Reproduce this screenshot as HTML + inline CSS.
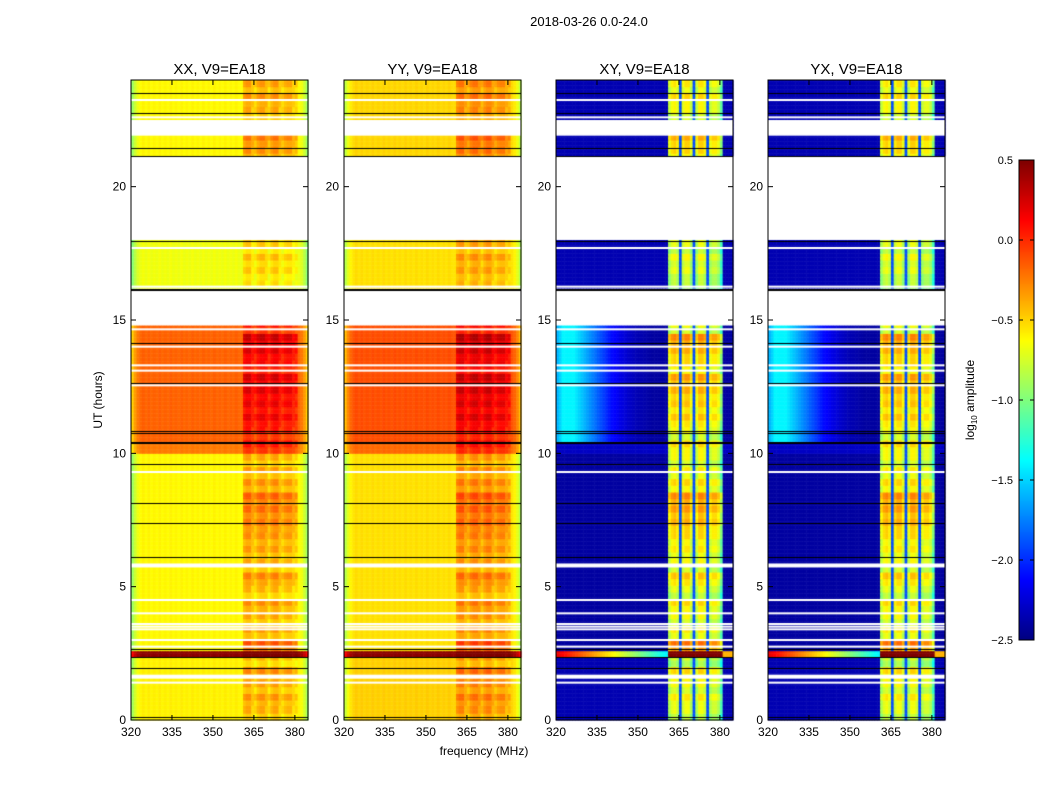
<!DOCTYPE html>
<html><head><meta charset="utf-8"><style>
body{margin:0;background:#fff;width:1050px;height:800px;overflow:hidden;font-family:"Liberation Sans",sans-serif}
canvas,svg{position:absolute;left:0;top:0}
</style></head><body>
<canvas id="cv" width="1050" height="800"></canvas>
<svg id="ov" width="1050" height="800"></svg>
<script>
// ---- data ----
const panelTitles=["XX, V9=EA18","YY, V9=EA18","XY, V9=EA18","YX, V9=EA18"];
const xTicks=[320,335,350,365,380];
const yTicks=[0,5,10,15,20];
const cbTicks=[0.5,0.0,-0.5,-1.0,-1.5,-2.0,-2.5];
// segments: [start,end, xx, yy, xy, yx, glowLeft(1/0)]
const segments=[[0,2.35,-0.6,-0.5,-2.35,-2.35,0],[2.35,2.6,0.45,0.45,-0.4,-0.4,0],[2.6,10.0,-0.62,-0.55,-2.4,-2.4,0],
 [10.0,10.4,-0.25,-0.2,-2.3,-2.3,0],[10.4,14.8,-0.18,-0.12,-1.4,-1.4,1],[16.2,18.0,-0.68,-0.55,-2.35,-2.35,0],[21.15,24,-0.62,-0.52,-2.35,-2.35,0]];
const whiteLines=[23.25,22.6,17.7,16.25,14.65,14.0,13.3,13.1,12.55,9.3,4.5,4.0,3.6,3.5,3.4,3.0,2.75,1.4,22.0,21.95];
const whiteBands=[[5.72,5.87],[1.55,1.7],[22.0,22.5],[18.0,21.15],[14.8,16.1]];
const blackLines=[23.5,22.75,21.45,21.15,17.95,16.15,16.12,14.15,12.65,10.85,10.75,10.42,10.38,9.6,8.15,7.4,6.1,2.65,2.35,1.95,0.1];
// column offsets (parallel pols), 320..384 MHz
const parProfile=[-0.3,-0.15,-0.05,0,0.03,0,0.03,0,0.02,0,0.03,0,0.02,0,0.03,0,0.02,0,0.03,0,0.02,0,0.03,0,0.02,0,0.03,0,0.02,0,0.03,0,0.02,0,0.03,0,0.02,0,0.03,0,0,
 0.15,0.2,0.2,0.15,0.05,0.15,0.2,0.2,0.2,0.05,0.15,0.2,0.2,0.15,0.05,0.12,0.15,0.15,0.12,0.05,0,-0.05,-0.15,-0.3];
// cross-pol RFI column values (NaN = background)
const rfiProfile=[NaN,NaN,NaN,NaN,NaN,NaN,NaN,NaN,NaN,NaN,NaN,NaN,NaN,NaN,NaN,NaN,NaN,NaN,NaN,NaN,NaN,NaN,NaN,NaN,NaN,NaN,NaN,NaN,NaN,NaN,NaN,NaN,NaN,NaN,NaN,NaN,NaN,NaN,NaN,NaN,NaN,
 -1.1,-0.95,-0.9,-1.0,-1.9,-1.0,-0.9,-0.9,-1.1,-1.9,-1.1,-0.9,-0.9,-1.0,-1.9,-1.1,-1.0,-1.0,-1.1,-1.4,NaN,NaN,NaN,NaN];
// left-side glow weights for cross-pol
const glow=[0.8,0.9,1,1,1,1,1,0.95,0.9,0.85,0.8,0.75,0.7,0.65,0.6,0.55,0.5,0.45,0.4,0.35,0.3,0.27,0.24,0.2,0.18,0.15,0.12,0.1,0.08,0.06,0.05,0.04,0.03,0.02,0.01,0,0,0,0,0,0,0,0,0,0,0,0,0,0,0,0,0,0,0,0,0,0,0,0,0,0,0,0,0,0];
// RFI intensity modulation per 0.5h bin (0..24h)
const rfiMod=[0.2,0.4,0.3,0.5,0.1,1.0,0.4,0.3,0.5,0.2,0.6,0.3,0.4,0.5,0.7,0.8,0.9,0.5,0.4,0.3,0.5,0.3,0.6,0.6,0.7,0.8,0.5,0.7,0.9,0.3,0,0,0,0.2,0.3,0.2,0,0,0,0,0,0,0.5,0.7,0.4,0.3,0.5,0.4];

// ---- drawing ----
const panels=[131,344,556,768], PW=177, PT=80, PB=720;
const fMin=320,fMax=384.8,hMax=24;
const xs=(p,f)=>panels[p]+(f-fMin)/(fMax-fMin)*PW;
const ys=h=>PB-h/hMax*(PB-PT);
function jet(v){let t=(v+2.5)/3;t=Math.max(0,Math.min(1,t));
 const r=Math.max(0,Math.min(1,1.5-Math.abs(4*t-3))),g=Math.max(0,Math.min(1,1.5-Math.abs(4*t-2))),b=Math.max(0,Math.min(1,1.5-Math.abs(4*t-1)));
 return `rgb(${r*255|0},${g*255|0},${b*255|0})`;}
const cv=document.getElementById('cv'),c=cv.getContext('2d');
const dh=0.05;
for(let p=0;p<4;p++){
 for(const s of segments){
  for(let h=s[0];h<s[1]-1e-9;h+=dh){
   const m=rfiMod[Math.min(47,Math.floor(h/0.5))];
   const wig=((Math.floor(h/0.25))%2)*0.12;
   for(let j=0;j<65;j++){
    let v;
    if(p<2){v=s[2+p]+parProfile[j];if(j>=41&&j<61)v+=(m-0.4)*0.35+wig*(j%5==4?0:1);}
    else{
     const bg=s[2+p];
     v=s[6]?-2.4+(bg+2.4)*glow[j]:bg;
     if(s[1]-s[0]<0.3&&j<41)v=0.2-j*0.04;
     if(!isNaN(rfiProfile[j])){v=rfiProfile[j]+(rfiProfile[j]>-1.5?m*0.6+wig:0);if(s[1]-s[0]<0.3)v=0.5;}
    }
    c.fillStyle=jet(v);
    const x0=xs(p,fMin+j),x1=xs(p,Math.min(fMax,fMin+j+1));
    c.fillRect(x0,ys(h+dh),x1-x0+0.5,ys(h)-ys(h+dh)+0.5);
   }
  }
 }
 c.fillStyle='#fff';
 for(const w of whiteLines)c.fillRect(panels[p],ys(w)-1,PW,2);
 for(const w of whiteBands)c.fillRect(panels[p],ys(w[1]),PW,ys(w[0])-ys(w[1]));
 c.fillStyle='#000';
 for(const b of blackLines)c.fillRect(panels[p],Math.round(ys(b)),PW,1);
}
// colorbar
for(let y=160;y<640;y++){c.fillStyle=jet(0.5-(y-160)/480*3);c.fillRect(1019,y,15,1);}

// overlay
const ov=document.getElementById('ov'),NS="http://www.w3.org/2000/svg";
function el(t,a,txt){const e=document.createElementNS(NS,t);for(const k in a)e.setAttribute(k,a[k]);if(txt!=null)e.textContent=txt;ov.appendChild(e);return e;}
let e;
e=el('text',{x:589,y:26,'text-anchor':'middle','font-size':13},'2018-03-26 0.0-24.0');

for(let p=0;p<4;p++){
 e=el('rect',{x:panels[p],y:PT,width:PW,height:PB-PT,fill:'none',stroke:'#000','stroke-width':1});
 
 e=el('text',{x:panels[p]+PW/2,y:74,'text-anchor':'middle','font-size':15},panelTitles[p]);
 
 for(const t of xTicks){const x=xs(p,t);
  el('line',{x1:x,x2:x,y1:PB,y2:PB-5,stroke:'#000'});el('line',{x1:x,x2:x,y1:PT,y2:PT+5,stroke:'#000'});
  e=el('text',{x:x,y:PB+16,'text-anchor':'middle','font-size':12},t);
  }
 for(const t of yTicks){const y=ys(t);
  el('line',{x1:panels[p],x2:panels[p]+5,y1:y,y2:y,stroke:'#000'});el('line',{x1:panels[p]+PW,x2:panels[p]+PW-5,y1:y,y2:y,stroke:'#000'});
  e=el('text',{x:panels[p]-5,y:y+4,'text-anchor':'end','font-size':12},t);
  }
}
e=el('text',{x:484,y:755,'text-anchor':'middle','font-size':12},'frequency (MHz)');

e=el('text',{x:102,y:400,'text-anchor':'middle','font-size':12,transform:'rotate(-90 102 400)'},'UT (hours)');

e=el('rect',{x:1019,y:160,width:15,height:480,fill:'none',stroke:'#000'});

for(const t of cbTicks){const y=160+(0.5-t)/3*480;
 el('line',{x1:1019,x2:1023,y1:y,y2:y,stroke:'#000'});el('line',{x1:1034,x2:1030,y1:y,y2:y,stroke:'#000'});
 e=el('text',{x:1013,y:y+4,'font-size':11,'text-anchor':'end'},(t<0?'\u2212':'')+Math.abs(t).toFixed(1));
 }
e=el('text',{x:974,y:400,'text-anchor':'middle','font-size':12,transform:'rotate(-90 974 400)'});

e.innerHTML='log<tspan font-size="8" dy="3">10</tspan><tspan dy="-3"> amplitude</tspan>';
</script>
</body></html>
